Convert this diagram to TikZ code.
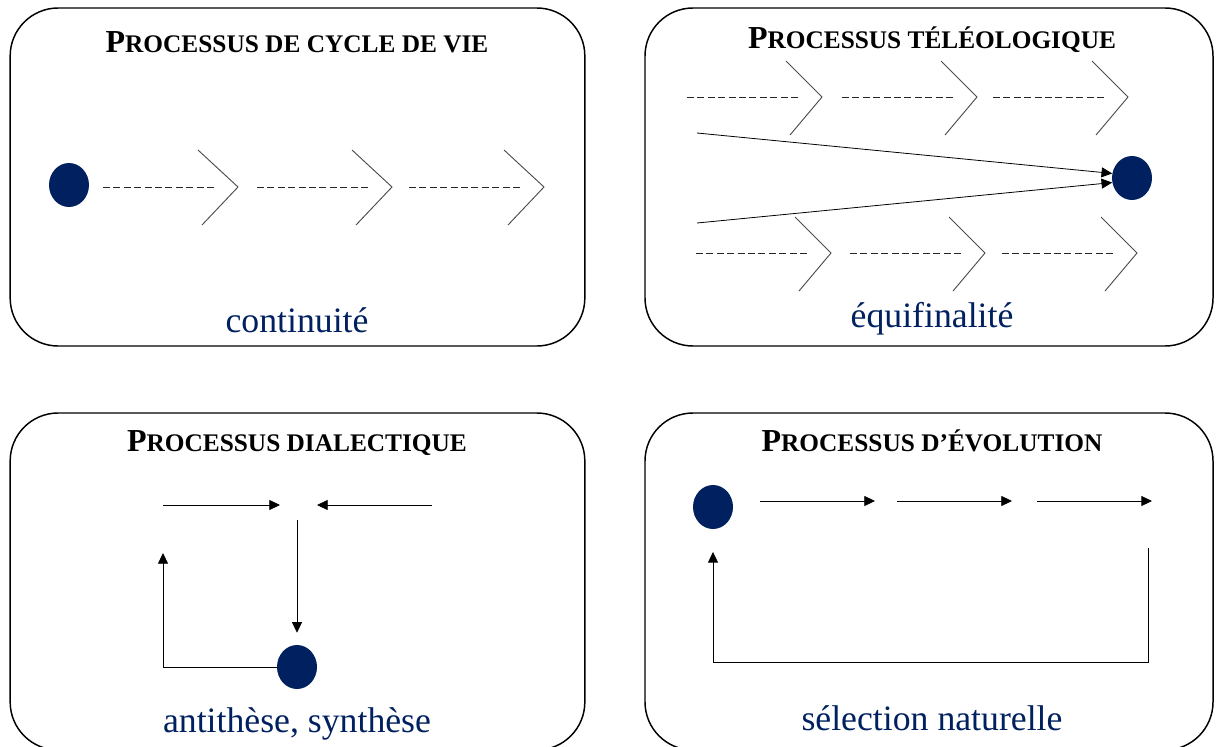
\documentclass[tikz,border=0pt]{standalone}
\usepackage{fontspec}
\setmainfont{Liberation Serif}
\usetikzlibrary{arrows.meta,shapes.geometric}
\definecolor{navy}{HTML}{002060}
\newcommand\scttl[2]{\bfseries\fontsize{24}{26}\selectfont#1\fontsize{19}{22}\selectfont#2}

\begin{document}
\begin{tikzpicture}[x=0.75pt,y=-0.75pt,
  panel/.style={draw,line width=1.1pt,rounded corners=36pt,inner sep=0pt},
  dot/.style={ellipse,fill=navy,inner sep=0pt,minimum width=30pt,minimum height=33pt},
  ttl/.style={anchor=base,inner sep=0pt},
  lbl/.style={anchor=base,inner sep=0pt,text=navy,font=\fontsize{26.8}{30}\selectfont},
  arr/.style={line width=0.6pt,-{Triangle[length=8pt,width=7.5pt]}},
  dashline/.style={line width=0.6pt,black!85,dash pattern=on 5.2pt off 2.6pt},
  chev/.style={line width=0.7pt,black!70}]
\useasboundingbox (0,0) rectangle (1216,746);

\node[panel,minimum width=431pt,minimum height=253.5pt] (boxA) at (297.5,177) {};
\node[panel,minimum width=426pt,minimum height=253.5pt] (boxB) at (929,177) {};
\node[panel,minimum width=431pt,minimum height=252.75pt] (boxC) at (297.5,581.5) {};
\node[panel,minimum width=426pt,minimum height=252.75pt] (boxD) at (929,581.5) {};

\node[ttl] (ttlA) at (297,52) {\scttl{P}{ROCESSUS DE CYCLE DE VIE}};
\node[ttl] (ttlB) at (932,48) {\scttl{P}{ROCESSUS TÉLÉOLOGIQUE}};
\node[ttl] (ttlC) at (297,451) {\scttl{P}{ROCESSUS DIALECTIQUE}};
\node[ttl] (ttlD) at (932,451) {\scttl{P}{ROCESSUS D’ÉVOLUTION}};

\node[lbl] (lblA) at (297,332) {continuité};
\node[lbl] (lblB) at (932,327) {équifinalité};
\node[lbl] (lblC) at (297,732) {antithèse, synthèse};
\node[lbl] (lblD) at (932,730) {sélection naturelle};

% cycle de vie
\node[dot] (dotA) at (69,185) {};
\foreach \x in {103,257,409}{
  \draw[dashline] (\x,187) -- ++(114,0);
  \draw[chev] (\x+95,150) -- (\x+135,187) -- (\x+99,225);
}

% teleologique
\node[dot] (dotB) at (1132,178) {};
\foreach \x/\y in {687/97,842/97,993/97,696/253,850/253,1002/253}{
  \draw[dashline] (\x,\y) -- ++(114,0);
  \draw[chev] (\x+99,\y-36) -- (\x+135,\y) -- (\x+103,\y+38);
}
\coordinate (b1) at (697,133);
\coordinate (b2) at (697,223);
\draw[arr] (b1) -- (dotB.167);
\draw[arr] (b2) -- (dotB.193);

% dialectique
\node[dot] (dotC) at (297,667) {};
\coordinate (c1) at (163,505);
\coordinate (c2) at (280,505);
\coordinate (c3) at (432,505);
\coordinate (c4) at (317,505);
\coordinate (c5) at (297,520);
\coordinate (c6) at (163,553);
\draw[arr] (c1) -- (c2);
\draw[arr] (c3) -- (c4);
\draw[arr,shorten >=9pt] (c5) -- (dotC.north);
\draw[arr] (dotC.west) -| (c6);

% evolution
\node[dot] (dotD) at (713,507) {};
\coordinate (d1) at (760,501);
\coordinate (d2) at (875,501);
\coordinate (d3) at (897,501);
\coordinate (d4) at (1012,501);
\coordinate (d5) at (1037,501);
\coordinate (d6) at (1152,501);
\coordinate (d7) at (1148,548);
\coordinate (d8) at (1148,662);
\draw[arr] (d1) -- (d2);
\draw[arr] (d3) -- (d4);
\draw[arr] (d5) -- (d6);
\draw[arr,shorten >=17pt] (d7) -- (d8) -| (dotD.south);
\end{tikzpicture}
\end{document}
